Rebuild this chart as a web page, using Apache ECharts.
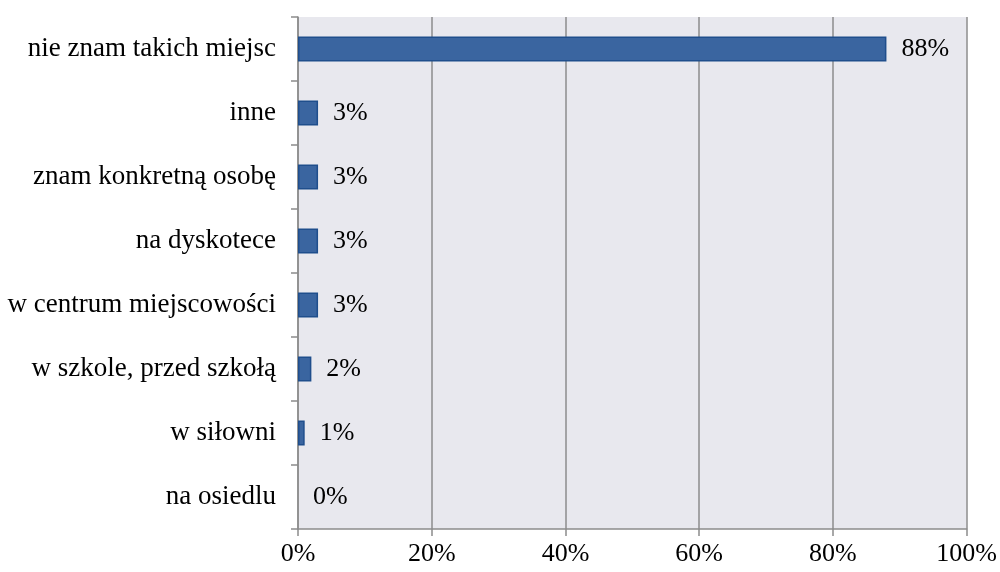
<!DOCTYPE html>
<html>
<head>
<meta charset="utf-8">
<script src="https://cdn.jsdelivr.net/npm/echarts@6/dist/echarts.min.js"></script>
<style>html,body{margin:0;padding:0;background:#fff}#chart{width:1000px;height:572px}</style>
</head>
<body>
<div id="chart"></div>
<script>
var categories = ['nie znam takich miejsc', 'inne', 'znam konkretną osobę', 'na dyskotece',
  'w centrum miejscowości', 'w szkole, przed szkołą', 'w siłowni', 'na osiedlu'];
var values = [88, 3, 3, 3, 3, 2, 1, 0];

var chart = echarts.init(document.getElementById('chart'));
var font = '"Liberation Serif", "Times New Roman", serif';

// zero-length bars get no outline, as in the original
var barData = values.map(function (v) {
  return v === 0 ? { value: v, itemStyle: { borderWidth: 0 } } : v;
});

chart.setOption({
  textStyle: { fontFamily: font },
  grid: { left: 298, right: 30, top: 17, bottom: 43, show: true, backgroundColor: '#E8E8EE', borderWidth: 0 },
  xAxis: {
    type: 'value', min: 0, max: 100, interval: 20,
    axisLine: { show: true, lineStyle: { color: '#8c8c8c', width: 1.5 } },
    axisTick: { show: true, length: 7, lineStyle: { color: '#8c8c8c', width: 1.5 } },
    splitLine: { show: true, lineStyle: { color: '#8c8c8c', width: 1.5 } },
    axisLabel: { formatter: '{value}%', color: '#000', fontSize: 26, fontFamily: font, margin: 12 }
  },
  yAxis: {
    type: 'category', data: categories, inverse: true,
    axisLine: { show: true, lineStyle: { color: '#8c8c8c', width: 1.5 } },
    axisTick: { show: true, length: 7, lineStyle: { color: '#8c8c8c', width: 1.5 } },
    axisLabel: { color: '#000', fontSize: 27, fontFamily: font, margin: 22 }
  },
  series: [{
    type: 'bar', data: barData, barWidth: 25,
    itemStyle: { color: '#3A65A0', borderColor: '#1F4E8C', borderWidth: 1.5 },
    label: { show: true, position: 'right', distance: 15, formatter: '{c}%', color: '#000', fontSize: 26, fontFamily: font },
    animation: false
  }],
  animation: false
});
</script>
</body>
</html>
